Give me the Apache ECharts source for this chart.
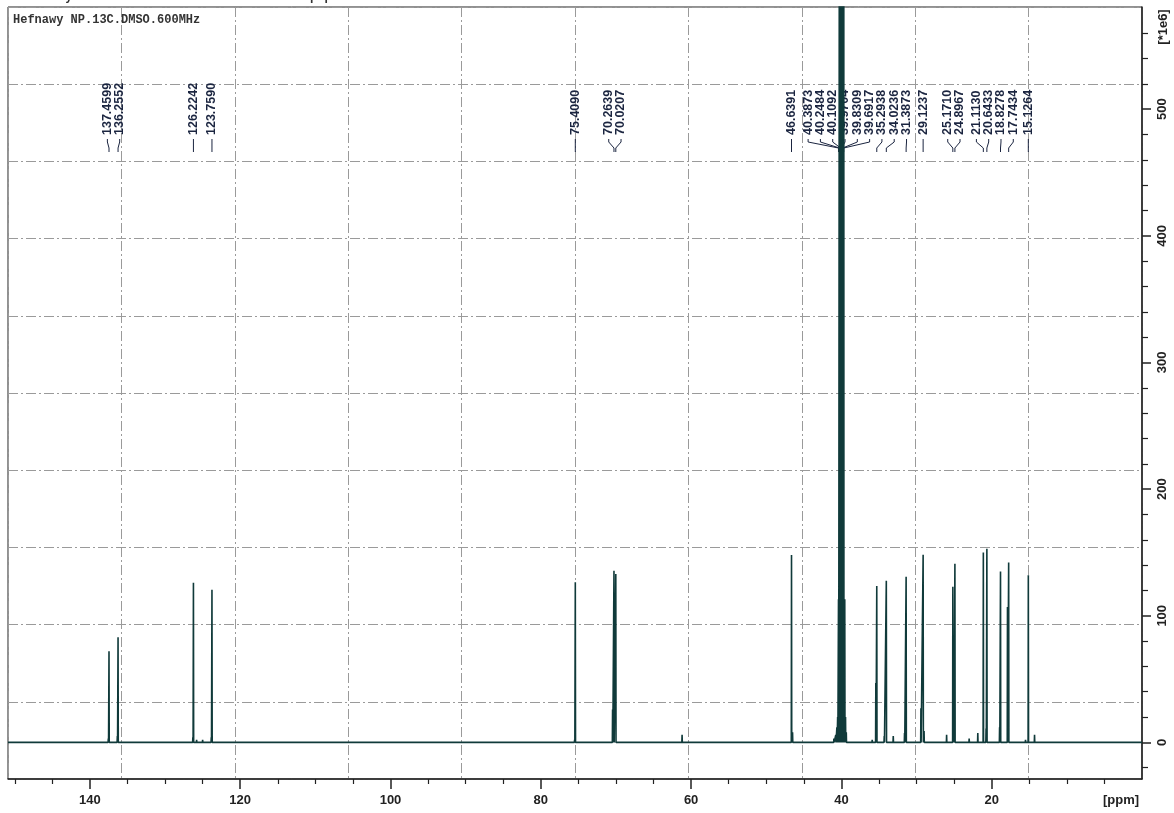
<!DOCTYPE html>
<html><head><meta charset="utf-8">
<script src="https://cdn.jsdelivr.net/npm/echarts@6/dist/echarts.min.js"></script>
<style>html,body{margin:0;padding:0;background:#fff}#c{width:1174px;height:813px}</style>
</head><body><div id="c"></div>
<script>
// ---- data ----
const labeledPpm = [137.4599, 136.2552, 126.2242, 123.7590, 75.4090, 70.2639, 70.0207, 46.6391,
  40.3873, 40.2484, 40.1092, 39.9704, 39.8309, 39.6917, 35.2938, 34.0236, 31.3873, 29.1237,
  25.1710, 24.8967, 21.1130, 20.6433, 18.8278, 17.7434, 15.1264];
const labeledHeight = [72, 83, 126, 120.5, 126.5, 135.5, 133, 148,
  113, 900, 2000, 2600, 2000, 900, 123.5, 127.6, 130.8, 148.2,
  123, 141, 150, 153, 135, 142, 132];
const labelText = ['137.4599', '136.2552', '126.2242', '123.7590', '75.4090', '70.2639', '70.0207', '46.6391',
  '40.3873', '40.2484', '40.1092', '39.9704', '39.8309', '39.6917', '35.2938', '34.0236', '31.3873', '29.1237',
  '25.1710', '24.8967', '21.1130', '20.6433', '18.8278', '17.7434', '15.1264'];
// small unlabelled signals, solvent shoulder and baseline blips
const minorPpm = [137.55, 136.35, 126.3, 125.8, 125.0, 123.85, 101.0, 99.5, 92.5, 91.6, 90.7, 89.8, 88.9, 88.0,
  87.1, 86.2, 85.3, 84.4, 83.5, 82.6, 81.7, 80.9, 75.5, 72.4, 70.45, 68.2, 63.4, 61.2, 59.3, 46.5,
  41.0, 40.75, 40.6, 40.5, 39.5525, 39.45, 39.35, 37.8, 35.9, 35.42, 34.3, 33.1, 31.6, 29.42, 29.0,
  27.7, 26.0, 25.05, 23.0, 21.85, 20.75, 18.95, 17.9, 15.5, 14.3];
const minorHeight = [3, 5, 4, 2, 2, 4, 1, 1, 1.5, 1, 1.5, 1, 1.5, 1, 1.5, 1, 1.5, 1, 1.5, 1, 1, 1, 2, 1.5, 26, 1, 1, 6, 1.5, 8,
  3, 6, 12, 20, 113, 20, 8, 1.5, 2, 47, 5, 5, 7.5, 27, 9,
  1.5, 6, 30, 3, 7.5, 11, 12, 107, 2, 6];
const xMajorTicks = [20, 40, 60, 80, 100, 120, 140];
const xMinorTicks = [5, 10, 15, 25, 30, 35, 45, 50, 55, 65, 70, 75, 85, 90, 95, 105, 110, 115, 125, 130, 135, 145, 150];
const yMajorTicks = [0, 100, 200, 300, 400, 500];
const yMinorTicks = [-20, 20, 40, 60, 80, 120, 140, 160, 180, 220, 240, 260, 280, 320, 340, 360, 380, 420, 440, 460, 480, 520, 540, 560];
const titleText = 'Hefnawy NP.13C.DMSO.600MHz';
const headerText = 'Hefnawy NP     13     1     C:\\Bruker\\TopSpin\\nmr';
const xUnit = '[ppm]';
const yUnit = '[*1e6]';
const xRange = [0, 150.9];
const yRange = [-28.9, 580.7];

// ---- build stick spectrum from the peak lists ----
const peaks = [];
labeledPpm.forEach((p, i) => peaks.push([p, labeledHeight[i]]));
minorPpm.forEach((p, i) => peaks.push([p, minorHeight[i]]));
peaks.sort((a, b) => b[0] - a[0]);
const hw = 0.03;
const lineData = [[xRange[1], 0]];
peaks.forEach(([p, h]) => { lineData.push([p + hw, 0], [p, h], [p - hw, 0]); });
lineData.push([xRange[0], 0]);

const ink = '#222';
const specColor = '#103a3a';
const labelColor = '#1b2540';
const gridLine = {show: true, lineStyle: {color: '#9a9a9a', width: 1, type: [10, 3, 2, 3]}};
const lblFont = {fontFamily: '"Liberation Sans", Arial, sans-serif', fontWeight: 'bold', fontSize: 13, color: ink};

const chart = echarts.init(document.getElementById('c'), null, {renderer: 'canvas'});
chart.setOption({
  animation: false,
  backgroundColor: '#fff',
  grid: {left: 8, top: 7, width: 1134, height: 772, show: true, borderColor: ink, borderWidth: 1, containLabel: false},
  xAxis: [
    {type: 'value', inverse: true, min: xRange[0], max: xRange[1], position: 'bottom',
      axisLine: {show: true, onZero: false, lineStyle: {color: ink, width: 1.5}},
      axisTick: {show: true, length: 10, customValues: xMajorTicks, lineStyle: {color: ink, width: 1.5}},
      axisLabel: Object.assign({customValues: xMajorTicks, margin: 15}, lblFont),
      splitLine: {show: false}},
    {type: 'value', inverse: true, min: xRange[0], max: xRange[1], position: 'bottom',
      axisLine: {show: false, onZero: false},
      axisTick: {show: true, length: 5, customValues: xMinorTicks, lineStyle: {color: ink, width: 1.2}},
      axisLabel: {show: false}, splitLine: {show: false}},
    {type: 'value', min: 0, max: 10, interval: 1, position: 'top',
      axisLine: {show: false}, axisTick: {show: false}, axisLabel: {show: false}, splitLine: gridLine}
  ],
  yAxis: [
    {type: 'value', min: yRange[0], max: yRange[1], position: 'right',
      axisLine: {show: true, onZero: false, lineStyle: {color: ink, width: 1.5}},
      axisTick: {show: true, length: 9, customValues: yMajorTicks, lineStyle: {color: ink, width: 1.5}},
      axisLabel: Object.assign({customValues: yMajorTicks, margin: 14, rotate: 90}, lblFont),
      splitLine: {show: false}},
    {type: 'value', min: yRange[0], max: yRange[1], position: 'right',
      axisLine: {show: false, onZero: false},
      axisTick: {show: true, length: 6, customValues: yMinorTicks, lineStyle: {color: ink, width: 1.2}},
      axisLabel: {show: false}, splitLine: {show: false}},
    {type: 'value', min: 0, max: 10, interval: 1, position: 'left',
      axisLine: {show: false}, axisTick: {show: false}, axisLabel: {show: false}, splitLine: gridLine}
  ],
  series: [{
    type: 'line', xAxisIndex: 0, yAxisIndex: 0, data: lineData, showSymbol: false, symbol: 'none',
    clip: true, sampling: null, z: 5,
    lineStyle: {color: specColor, width: 1.6}
  }]
});

// ---- peak labels, placed from the axis scale ----
const order = labeledPpm.map((p, i) => i).sort((a, b) => labeledPpm[b] - labeledPpm[a]);
const target = order.map(i => chart.convertToPixel({xAxisIndex: 0}, labeledPpm[i]));
const d = 12.3;
let clusters = target.map((t, k) => ({sum: t, n: 1, start: k}));
let merged = true;
while (merged) {
  merged = false;
  for (let c = 0; c < clusters.length - 1; c++) {
    const A = clusters[c], B = clusters[c + 1];
    const aEnd = A.sum / A.n + A.n * d / 2;
    const bStart = B.sum / B.n - B.n * d / 2;
    if (aEnd > bStart) {
      clusters.splice(c, 2, {sum: A.sum + B.sum, n: A.n + B.n, start: A.start});
      merged = true; break;
    }
  }
}
const labelX = [];
clusters.forEach(cl => {
  const mean = cl.sum / cl.n;
  for (let j = 0; j < cl.n; j++) labelX.push(mean - (cl.n * d) / 2 + d / 2 + j * d);
});

const graphics = [];
const textBase = 135;
order.forEach((idx, k) => {
  const lx = labelX[k], px = target[k];
  graphics.push({type: 'text', x: lx, y: textBase, rotation: Math.PI / 2, z: 1,
    style: {text: labelText[idx], fill: labelColor, font: 'bold 12.5px "Liberation Sans", Arial, sans-serif',
      textAlign: 'left', textVerticalAlign: 'middle'}});
  graphics.push({type: 'polyline', z: 1,
    shape: {points: [[lx, 139], [lx, 142], [px, 148], [px, 152]]},
    style: {stroke: labelColor, lineWidth: 1, fill: null}});
});
graphics.push({type: 'text', x: 13, y: 20, z: 1,
  style: {text: titleText, fill: '#333', font: 'bold 12px "Liberation Mono", "Courier New", monospace', textVerticalAlign: 'middle'}});
graphics.push({type: 'text', x: 22, y: -3, z: 1,
  style: {text: headerText, fill: '#333', font: 'bold 12px "Liberation Mono", "Courier New", monospace', textVerticalAlign: 'middle'}});
graphics.push({type: 'text', x: 1121, y: 800, z: 1,
  style: {text: xUnit, fill: ink, font: 'bold 13px "Liberation Sans", Arial, sans-serif', textAlign: 'center', textVerticalAlign: 'middle'}});
graphics.push({type: 'text', x: 1163, y: 27, rotation: Math.PI / 2, z: 1,
  style: {text: yUnit, fill: ink, font: 'bold 13px "Liberation Sans", Arial, sans-serif', textAlign: 'center', textVerticalAlign: 'middle'}});
chart.setOption({graphic: graphics});
</script>
</body></html>
